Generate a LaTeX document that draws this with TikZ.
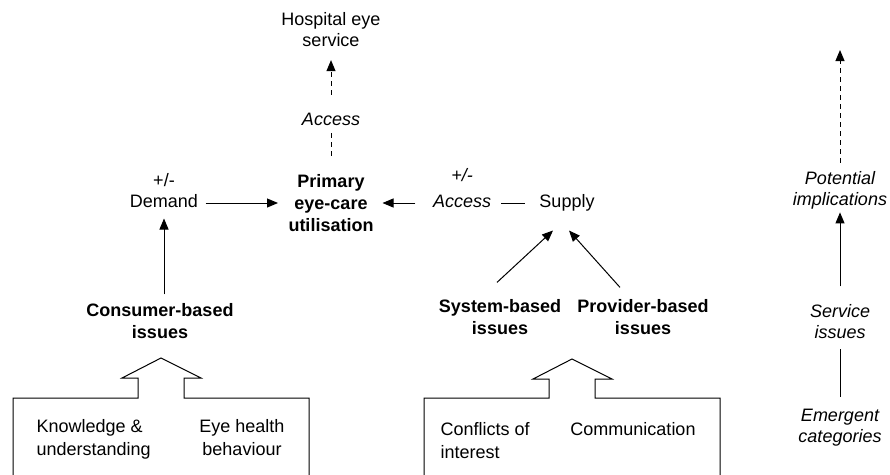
\documentclass[tikz,border=0pt]{standalone}
\usepackage{fontspec}
\setmainfont{Liberation Sans}
\usetikzlibrary{arrows.meta}

\begin{document}
\begin{tikzpicture}[x=1pt,y=-1pt,line width=1pt,
  every node/.style={inner sep=0pt,align=center,font=\fontsize{18}{21}\selectfont},
  issue/.style={font=\fontsize{18}{22}\selectfont\bfseries},
  note/.style={font=\fontsize{18}{21}\selectfont\itshape},
  boxtext/.style={font=\fontsize{18}{22.5}\selectfont},
  row/.style={text height=13pt,text depth=4pt},
  arr/.style={-{Triangle[length=11pt,width=9pt]}},
  dashline/.style={dash pattern=on 5pt off 4pt}]
  \useasboundingbox (0,0) rectangle (890,474);

  \node (hosp) at (331,29.5) {Hospital eye\\service};
  \node[note] (acc2) at (331,119) {Access};
  \node[issue] (primary) at (331,203) {Primary\\eye-care\\utilisation};

  \node[row,label={[inner sep=0pt,label distance=7pt]above:+/-}] (demand) at (164,203) {Demand};
  \node[row,note,label={[note,inner sep=0pt,label distance=12pt]above:+/-}] (accs) at (462,203) {Access};
  \node[row] (supply) at (567,203) {Supply};

  \node[issue] (cons) at (160,321.5) {Consumer-based\\issues};
  \node[issue] (sys) at (500,317.5) {System-based\\issues};
  \node[issue] (prov) at (643,317.5) {Provider-based\\issues};

  \node[boxtext,anchor=north west,align=left] (know) at (36,419) {Knowledge \&\\understanding};
  \node[boxtext,anchor=north] (eye) at (242,419) {Eye health\\behaviour};
  \node[boxtext,anchor=north west,align=left] (conf) at (440,422) {Conflicts of\\interest};
  \node[boxtext,anchor=north] (comm) at (633,422) {Communication};

  \node[note] (pot) at (840,190.5) {Potential\\implications};
  \node[note] (serv) at (840,322) {Service\\issues};
  \node[note] (emer) at (840,427.5) {Emergent\\categories};
  \coordinate (potend) at (840,50);

  \draw[dashline,shorten <=18pt,shorten >=7.5pt] (primary) -- (acc2);
  \draw[dashline,arr,shorten <=17.5pt,shorten >=13pt] (acc2) -- (hosp);
  \draw[arr,shorten <=7pt,shorten >=10pt] (demand) -- (primary);
  \draw[shorten <=14pt,shorten >=9pt] (supply) -- (accs);
  \draw[arr,shorten <=17pt,shorten >=8.5pt] (accs) -- (primary);
  \draw[arr,shorten <=9pt,shorten >=6.5pt] (cons.north -| demand) -- (demand.south);
  \draw[arr] ([xshift=-3pt,yshift=17pt]sys.north) -- ([xshift=-14pt,yshift=-18.5pt]supply.south);
  \draw[arr] ([xshift=-23pt,yshift=12pt]prov.north) -- ([xshift=2pt,yshift=-18.5pt]supply.south);

  \draw[dashline,arr,shorten <=8.5pt] (pot) -- (potend);
  \draw[arr,shorten <=18pt,shorten >=2.5pt] (serv) -- (pot);
  \draw[shorten <=11.5pt,shorten >=9pt] (emer) -- (serv);

  \draw (13,476) -- (13,398) -- (138,398) -- (138,378) -- (122,378) -- (161,358)
    -- (201,378) -- (184,378) -- (184,398) -- (309,398) -- (309,476);
  \draw (424,476) -- (424,398) -- (549,398) -- (549,379) -- (533,379) -- (572,359)
    -- (612,379) -- (595,379) -- (595,398) -- (720,398) -- (720,476);
\end{tikzpicture}
\end{document}
